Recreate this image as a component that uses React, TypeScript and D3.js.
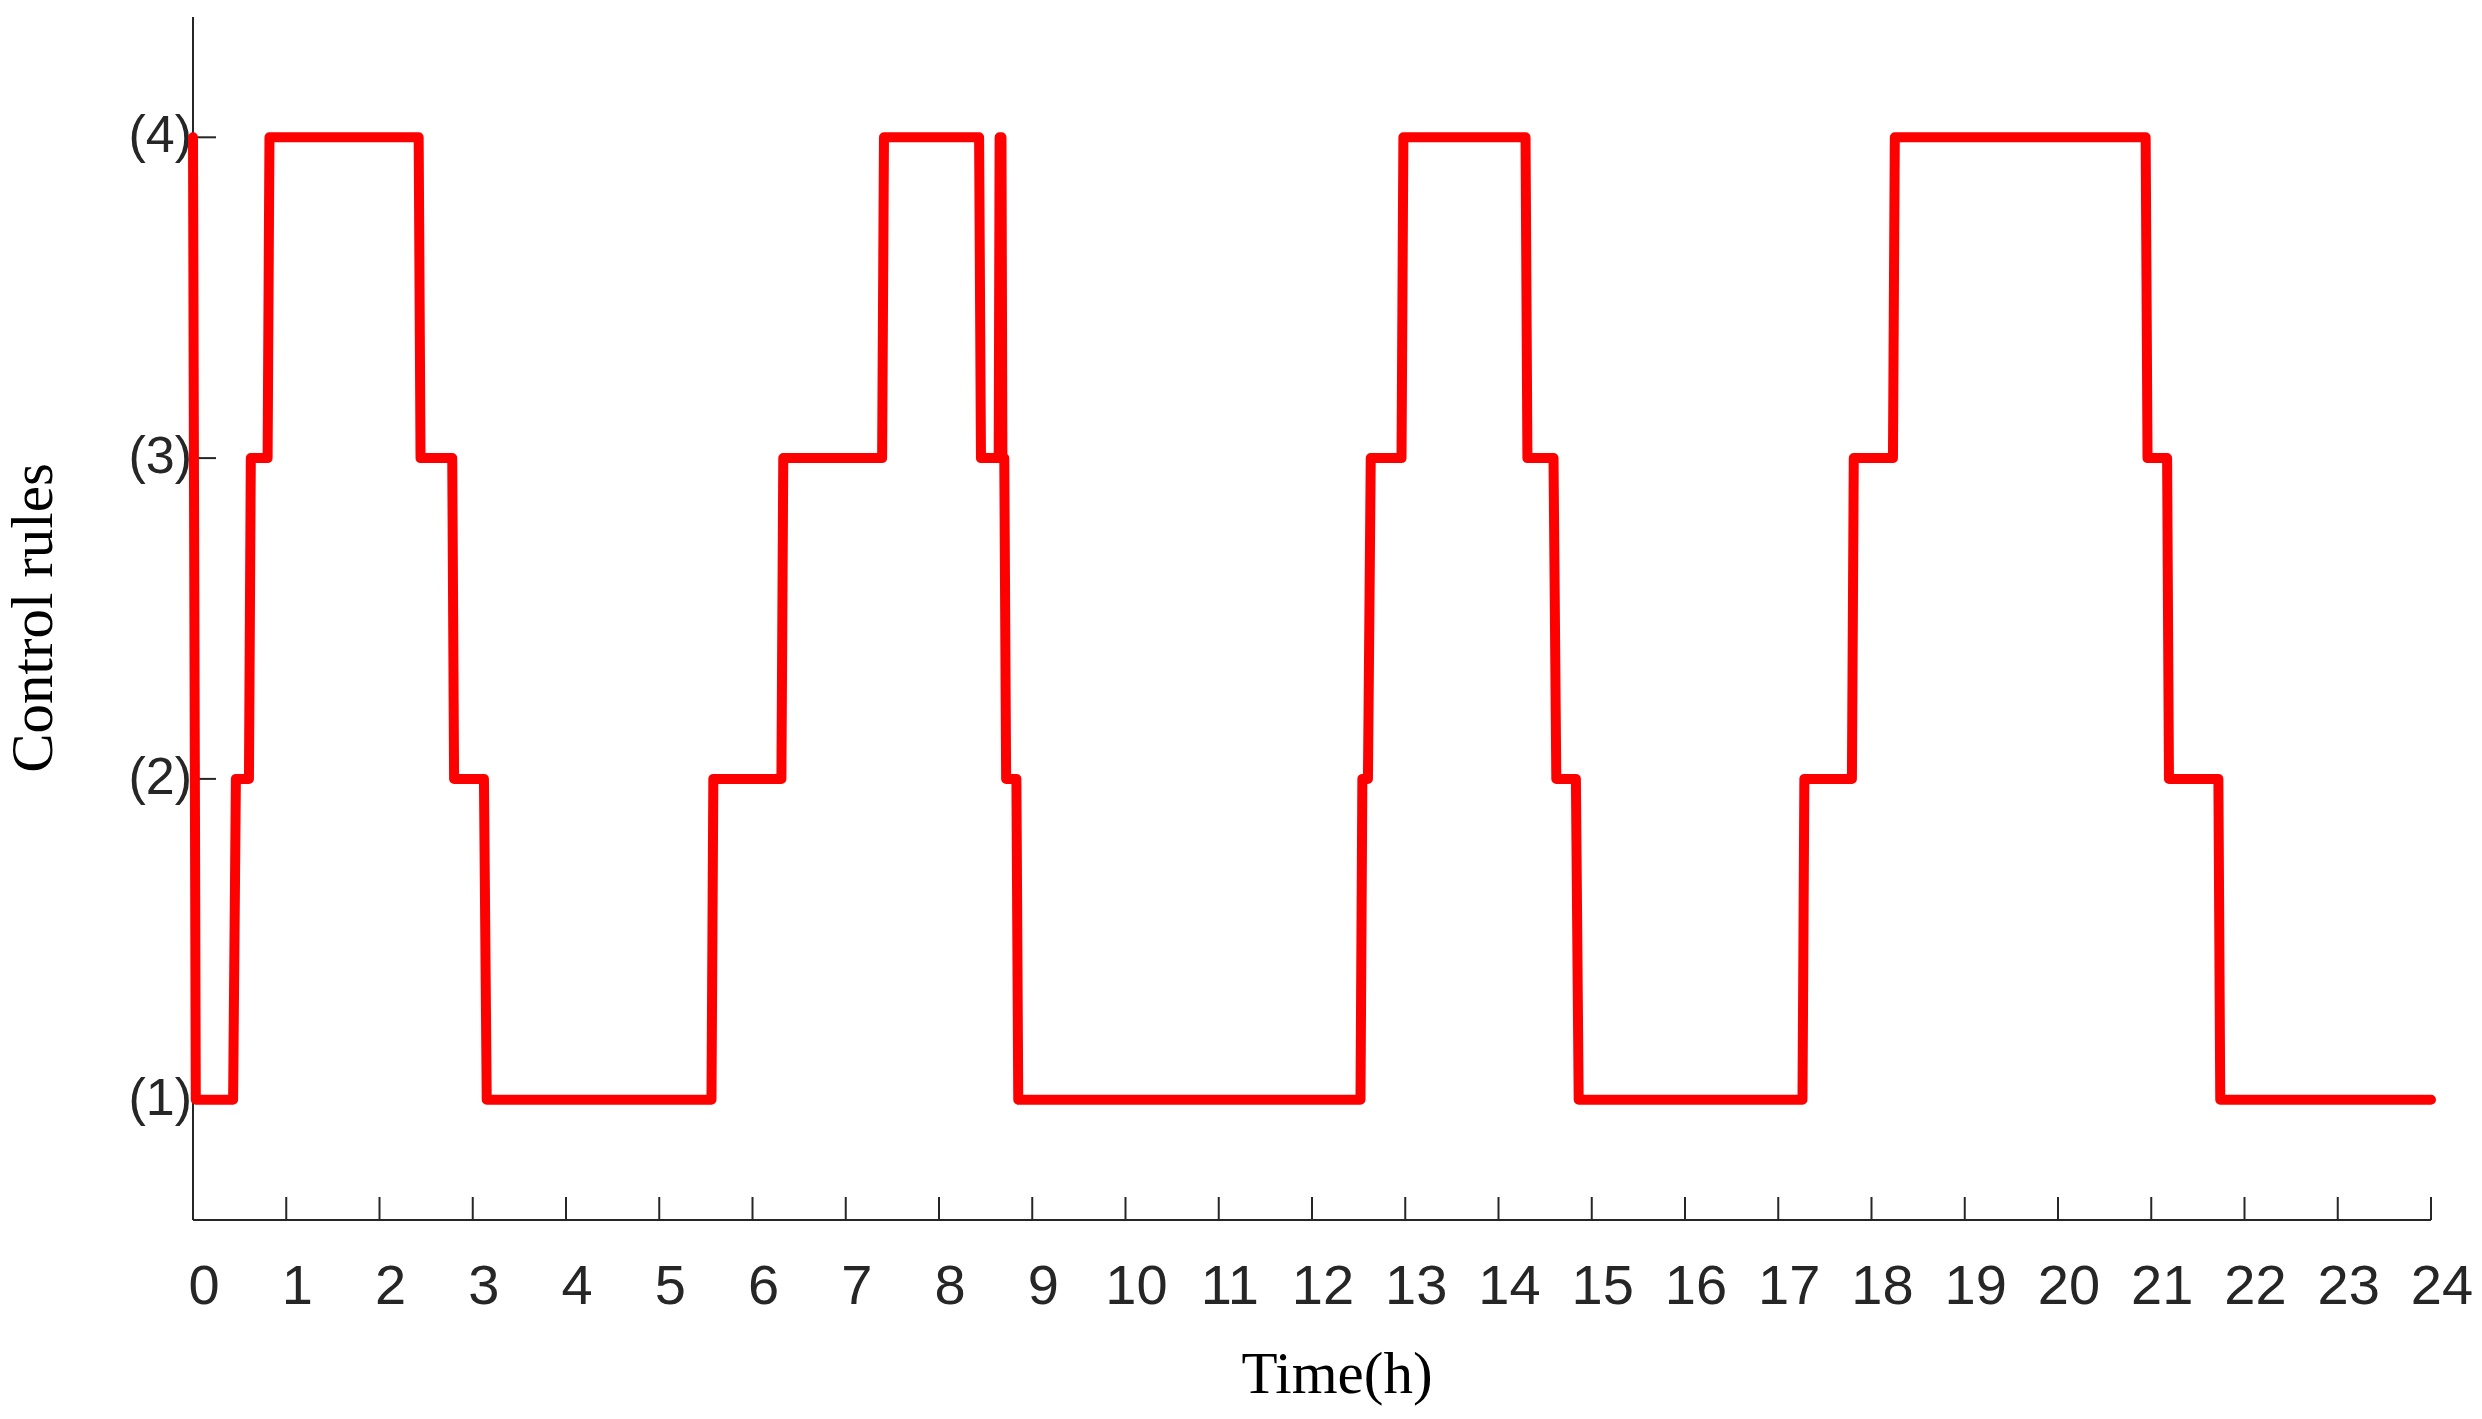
import React from "react";
import * as d3 from "d3";

// Control rule level over time (step series, each switch sampled as two points)
const times: number[] = [
  0, 0.03, 0.43, 0.46, 0.6, 0.62, 0.8, 0.82, 2.42, 2.44, 2.78, 2.8, 3.12, 3.15,
  5.56, 5.58, 6.31, 6.33, 7.39, 7.41, 8.43, 8.45, 8.64, 8.65, 8.67, 8.68, 8.7, 8.72,
  8.83, 8.85, 12.52, 12.54, 12.6, 12.63, 12.96, 12.98, 14.29, 14.31, 14.59, 14.62,
  14.83, 14.86, 17.26, 17.28, 17.79, 17.81, 18.23, 18.25, 20.94, 20.96, 21.17, 21.19,
  21.72, 21.74, 24,
];
const levels: number[] = [
  4, 1, 1, 2, 2, 3, 3, 4, 4, 3, 3, 2, 2, 1,
  1, 2, 2, 3, 3, 4, 4, 3, 3, 4, 4, 3, 3, 2,
  2, 1, 1, 2, 2, 3, 3, 4, 4, 3, 3, 2,
  2, 1, 1, 2, 2, 3, 3, 4, 4, 3, 3, 2,
  2, 1, 1,
];
const xTickValues: number[] = d3.range(0, 25);
const yTickValues: number[] = [1, 2, 3, 4];
const yTickLabels: string[] = ["(1)", "(2)", "(3)", "(4)"];
const xTitle = "Time(h)";
const yTitle = "Control rules";

const W = 2482;
const H = 1419;
const axisColor = "#262626";

export default function App() {
  const x = d3.scaleLinear().domain([0, 24]).range([193, 2431]);
  const y = d3.scaleLinear().domain([0.625, 4.375]).range([1220, 17]);
  const n = Math.min(times.length, levels.length);
  const pts: [number, number][] = d3.range(n).map((i) => [times[i], levels[i]]);
  const line = d3
    .line<[number, number]>()
    .x((d) => x(d[0]))
    .y((d) => y(d[1]));
  const [x0, x1] = x.range();
  const [yb, yt] = y.range();
  const tick = 23;
  const sans = "'Liberation Sans', Arial, Helvetica, sans-serif";
  const serif = "'Liberation Serif', 'Times New Roman', serif";
  return (
    <svg
      width={W}
      height={H}
      viewBox={`0 0 ${W} ${H}`}
      style={{ position: "absolute", left: 0, top: 0, background: "#fff" }}
    >
      <rect x={0} y={0} width={W} height={H} fill="#fff" />
      {/* axes */}
      <line x1={x0} x2={x1} y1={yb} y2={yb} stroke={axisColor} strokeWidth={2} />
      <line x1={x0} x2={x0} y1={yb} y2={yt} stroke={axisColor} strokeWidth={2} />
      {xTickValues.map((v) => (
        <g key={"xt" + v}>
          <line x1={x(v)} x2={x(v)} y1={yb} y2={yb - tick} stroke={axisColor} strokeWidth={2} />
          <text
            x={x(v) + 11}
            y={1304}
            textAnchor="middle"
            fontFamily={sans}
            fontSize={56}
            fill={axisColor}
          >
            {String(v)}
          </text>
        </g>
      ))}
      {yTickValues.map((v, i) => (
        <g key={"yt" + v}>
          <line x1={x0} x2={x0 + tick} y1={y(v)} y2={y(v)} stroke={axisColor} strokeWidth={2} />
          <text
            x={192}
            y={y(v) + 15}
            textAnchor="end"
            fontFamily={sans}
            fontSize={52}
            fill={axisColor}
          >
            {yTickLabels[i]}
          </text>
        </g>
      ))}
      {/* series */}
      <path
        d={line(pts) || ""}
        fill="none"
        stroke="#ff0000"
        strokeWidth={10}
        strokeLinejoin="round"
        strokeLinecap="round"
      />
      {/* titles */}
      <text x={1337} y={1393} textAnchor="middle" fontFamily={serif} fontSize={59} fill="#000">
        {xTitle}
      </text>
      <text
        transform={`translate(52,618) rotate(-90)`}
        textAnchor="middle"
        fontFamily={serif}
        fontSize={59}
        fill="#000"
      >
        {yTitle}
      </text>
    </svg>
  );
}
